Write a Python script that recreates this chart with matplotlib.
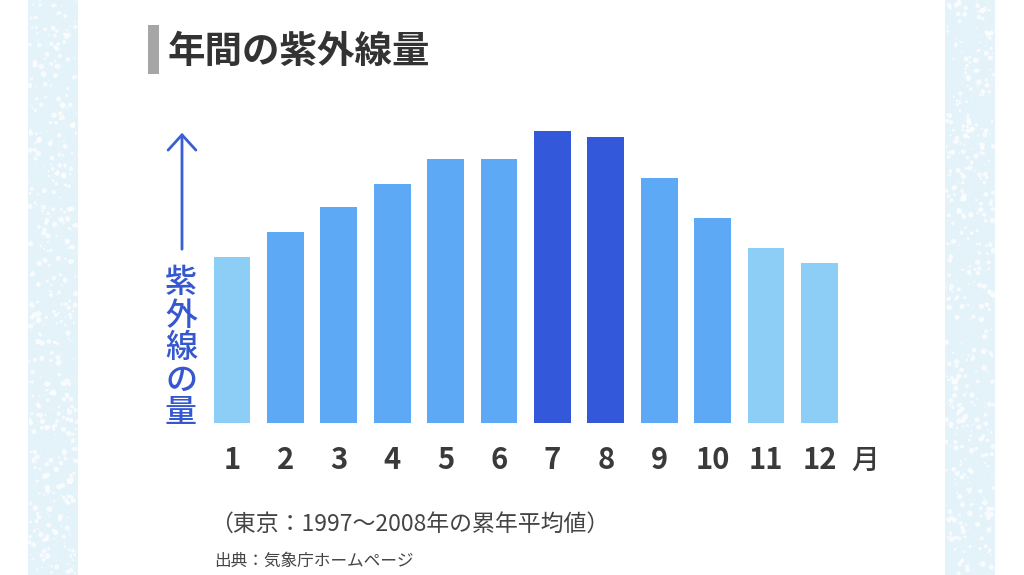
import numpy as np
import matplotlib
matplotlib.use("Agg")
import matplotlib.pyplot as plt
from matplotlib.patches import Rectangle, FancyArrowPatch

plt.rcParams['font.family'] = ['Noto Sans CJK JP', 'DejaVu Sans']

# Monthly UV amount (relative units), Tokyo 1997-2008 average
months = [1, 2, 3, 4, 5, 6, 7, 8, 9, 10, 11, 12]
month_labels = ["1", "2", "3", "4", "5", "6", "7", "8", "9", "10", "11", "12"]
uv_amount = [166, 191, 216, 239, 264, 264, 292, 286, 245, 205, 175, 160]
bar_tone = ["light", "mid", "mid", "mid", "mid", "mid", "dark", "dark",
            "mid", "mid", "light", "light"]

palette = {"light": "#8dcef7", "mid": "#5ea9f5", "dark": "#3358d9"}

W, H = 1024, 575
fig = plt.figure(figsize=(W / 100, H / 100), dpi=100)
fig.patch.set_facecolor("white")


def fx(px):
    return px / W


def fy(py):
    return 1 - py / H


# pale textured side panels
rng = np.random.default_rng(7)
for x0 in (28, 945):
    pax = fig.add_axes([fx(x0), 0, fx(50), 1])
    pax.set_facecolor("#e4f2f9")
    n = 480
    xs = 1 + rng.random(n) * 48
    ys = rng.random(n) * H
    ss = rng.random(n) ** 2 * 16 + 0.8
    pax.scatter(xs, ys, s=ss, color="white", alpha=0.75, linewidths=0)
    pax.set_xlim(0, 50)
    pax.set_ylim(0, H)
    pax.set_xticks([])
    pax.set_yticks([])
    for sp in pax.spines.values():
        sp.set_visible(False)

# bar chart axes: month slot width ~53.4 px, baseline at y=423 px
slot = 53.4
left_px = 232 - 0.5 * slot
ax = fig.add_axes([fx(left_px), fy(423), fx(12 * slot), 300 / H])
ax.set_xlim(0.5, 12.5)
ax.set_ylim(0, 300)
ax.bar(months, uv_amount, width=0.69, color=[palette[t] for t in bar_tone],
       edgecolor="none")
ax.axis("off")

# month labels
for m, lab in zip(months, month_labels):
    ax.text(m, -37, lab, ha="center", va="center", fontsize=21,
            fontweight="bold", color="#3a3a3a", clip_on=False)
ax.text(12.85, -37, "月", ha="center", va="center", fontsize=20,
        fontweight="medium", color="#3a3a3a", clip_on=False)

# title with grey marker
fig.patches.append(Rectangle((fx(148), fy(74)), fx(11), 49 / H, transform=fig.transFigure,
                             facecolor="#a6a6a6", edgecolor="none"))
fig.text(fx(168), fy(51), "年間の紫外線量", ha="left", va="center", fontsize=27,
         fontweight="bold", color="#333333")

# vertical axis note: arrow and stacked label
fig.add_artist(FancyArrowPatch(
    (fx(182), fy(252)), (fx(182), fy(130)), transform=fig.transFigure,
    arrowstyle="->,head_length=11,head_width=10", color="#3a5fd3", lw=2.0,
    mutation_scale=1))
for i, ch in enumerate("紫外線の量"):
    fig.text(fx(181), fy(283 + i * 32.5), ch, ha="center", va="center", fontsize=23,
             fontweight="medium", color="#3557d0")

# notes
fig.text(fx(210), fy(524), "（東京：1997〜2008年の累年平均値）", ha="left", va="center",
         fontsize=16.5, color="#444444")
fig.text(fx(214), fy(561), "出典：気象庁ホームページ", ha="left", va="center",
         fontsize=12, color="#444444")

fig.savefig("out.png", dpi=100, facecolor="white")
